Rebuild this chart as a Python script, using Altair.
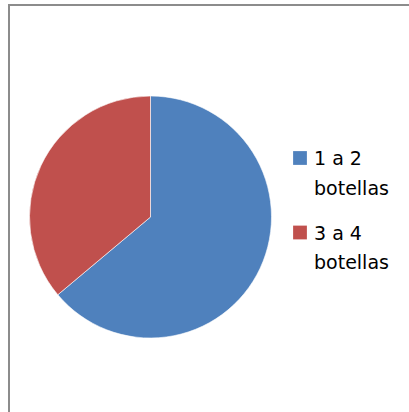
import altair as alt
import pandas as pd

categories = ["1 a 2 botellas", "3 a 4 botellas"]
values = [23, 13]
colors = ["#4F81BD", "#C0504D"]

df = pd.DataFrame({"categoria": categories, "valor": values})

color_enc = alt.Color(
    "categoria:N",
    sort=categories,
    scale=alt.Scale(domain=categories, range=colors),
    legend=None,
)

frame = alt.Chart(pd.DataFrame({"k": [0]})).mark_rect(
    fill=None, stroke="#8c8c8c", strokeWidth=2
).encode(
    x=alt.value(9), y=alt.value(5), x2=alt.value(430), y2=alt.value(430)
)

pie = alt.Chart(df).mark_arc(
    radius=121, stroke="#ffffff", strokeWidth=0.6
).encode(
    theta=alt.Theta("valor:Q", stack=True),
    color=color_enc,
    order=alt.Order("valor:Q", sort="descending"),
    x=alt.value(150.5),
    y=alt.value(217),
)

legend_y = alt.Y(
    "categoria:N",
    sort=categories,
    scale=alt.Scale(type="point", domain=categories, range=[158, 232.5], padding=0),
    axis=None,
)

legend_sym = alt.Chart(df).mark_square(size=190, opacity=1, filled=True).encode(
    x=alt.value(300),
    y=legend_y,
    color=color_enc,
)

legend_txt = alt.Chart(df).transform_calculate(
    etiqueta="replace(datum.categoria, ' botellas', '\\nbotellas')"
).mark_text(
    align="left",
    baseline="alphabetic",
    dy=7,
    lineBreak="\n",
    lineHeight=29.5,
    font="DejaVu Sans",
    fontSize=19,
    color="#000000",
).encode(
    x=alt.value(314),
    y=legend_y,
    text="etiqueta:N",
)

chart = alt.layer(frame, pie, legend_sym, legend_txt).properties(
    width=409, height=412, padding=0, autosize=alt.AutoSizeParams(type="none")
).configure_view(stroke=None)

chart.save("out.html", embed_options={"renderer": "svg", "actions": False})
